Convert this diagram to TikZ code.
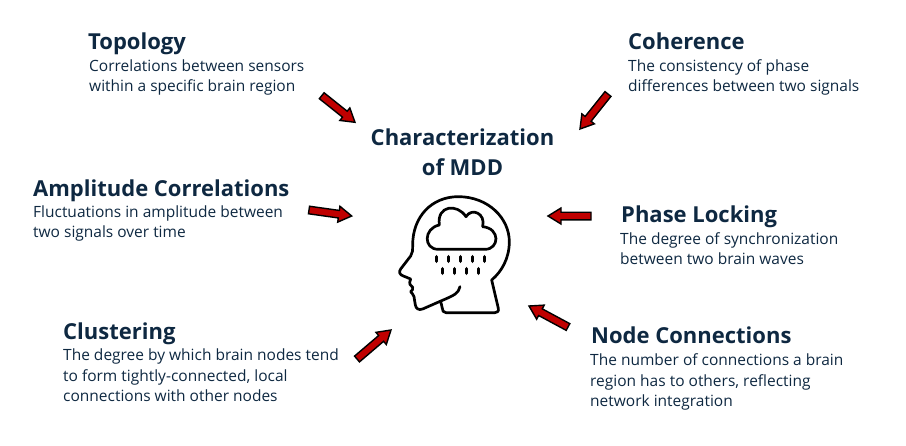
\documentclass[tikz,border=0pt]{standalone}
\usepackage{fontspec}
\setmainfont{Open Sans}
\usetikzlibrary{calc}
\definecolor{navy}{HTML}{0E2841}
\definecolor{arrowred}{HTML}{C00000}
\tikzset{
 x=1pt,y=-1pt,
 headline/.style={anchor=base west,inner sep=0pt,text=navy,font=\fontsize{22}{26}\selectfont\bfseries},
 bodytext/.style={anchor=base west,inner sep=0pt,text=navy,align=left,font=\fontsize{15.5}{20.5}\selectfont},
 redarrow/.style={draw=black,fill=arrowred,line width=1.4pt,line join=miter},
 iconline/.style={draw=black,line width=2.7pt,line cap=round,line join=round},
 raindrop/.style={draw=black,line width=3.4pt,line cap=round},
}
\newcommand\blockarrow[2]{%
 \coordinate (hb) at ($(#2)!13pt!(#1)$);
 \draw[redarrow] ($(#1)!3.8pt!90:(#2)$) -- ($(hb)!3.8pt!90:(#2)$) -- ($(hb)!8pt!90:(#2)$) -- (#2) -- ($(hb)!8pt!-90:(#2)$) -- ($(hb)!3.8pt!-90:(#2)$) -- ($(#1)!3.8pt!-90:(#2)$) -- cycle;}
\begin{document}
\begin{tikzpicture}
\useasboundingbox (0,0) rectangle (906,445);
\node[headline] (t1) at (88,49) {Topology};
\node[bodytext] (b1) at (89,91.5) {Correlations between sensors\\within a specific brain region};
\node[headline] (t2) at (628,49) {Coherence};
\node[bodytext] (b2) at (628,91.5) {The consistency of phase\\differences between two signals};
\node[headline] (t3) at (33,196) {Amplitude Correlations};
\node[bodytext] (b3) at (33,237.5) {Fluctuations in amplitude between\\two signals over time};
\node[headline] (t4) at (621,222) {Phase Locking};
\node[bodytext] (b4) at (620,264.5) {The degree of synchronization\\between two brain waves};
\node[headline] (t5) at (63,339) {Clustering};
\node[bodytext] (b5) at (63,401.5) {The degree by which brain nodes tend\\to form tightly-connected, local\\connections with other nodes};
\node[headline] (t6) at (591,343) {Node Connections};
\node[bodytext] (b6) at (590,406.5) {The number of connections a brain\\region has to others, reflecting\\network integration};
\node[anchor=base,inner sep=0pt,text=navy,align=center,font=\fontsize{22}{30}\selectfont\bfseries] (main) at (462.5,175) {Characterization\\of MDD};
\coordinate (a1s) at (321.7,95.7); \coordinate (a1e) at (355,122.3);
\coordinate (a2s) at (608,94); \coordinate (a2e) at (580,129);
\coordinate (a3s) at (309,210); \coordinate (a3e) at (351.7,216);
\coordinate (a4s) at (591,216); \coordinate (a4e) at (548,216);
\coordinate (a5s) at (357,359); \coordinate (a5e) at (391,330);
\coordinate (a6s) at (568,327); \coordinate (a6e) at (529,306);
\blockarrow{a1s}{a1e}\blockarrow{a2s}{a2e}\blockarrow{a3s}{a3e}\blockarrow{a4s}{a4e}\blockarrow{a5s}{a5e}\blockarrow{a6s}{a6e}
\begin{scope}[shift={(380,180)},x=0.3333pt,y=-0.3333pt]
\draw[iconline] (240,320) .. controls (235,340) and (225,345) .. (185,362) -- (128,387) .. controls (115,392) and (108,385) .. (106,375) -- (102,350) .. controls (100,342) and (95,340) .. (92,335) .. controls (95,330) and (102,328) .. (98,322) .. controls (92,318) and (85,312) .. (92,297) -- (70,288) .. controls (58,284) and (56,275) .. (62,267) -- (92,228) .. controls (98,220) and (98,210) .. (98,195) .. controls (98,110) and (155,50) .. (235,50) .. controls (325,50) and (388,115) .. (388,185) .. controls (388,235) and (365,275) .. (335,300) -- (355,385) .. controls (357,394) and (352,398) .. (345,398) -- (198,398) .. controls (190,398) and (187,392) .. (187,385) -- (183,368);
\draw[iconline] (175,208) -- (315,208) .. controls (358,208) and (362,145) .. (308,140) .. controls (318,100) and (275,82) .. (258,110) .. controls (232,70) and (170,75) .. (178,135) .. controls (130,145) and (130,208) .. (175,208) -- cycle;
\foreach \px in {170,206,242,278,314} \draw[raindrop] (\px,230) -- (\px,244);
\foreach \px in {188,224,260,296} \draw[raindrop] (\px,266) -- (\px,280);
\end{scope}
\end{tikzpicture}
\end{document}
